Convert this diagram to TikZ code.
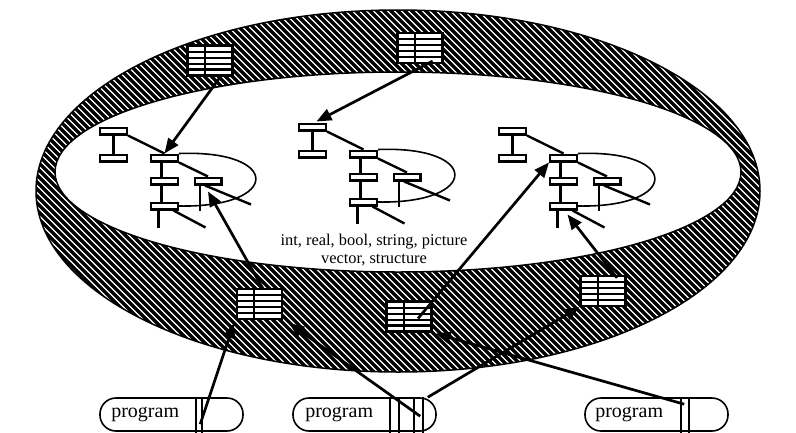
\documentclass[tikz,border=0pt]{standalone}
\usepackage{fontspec}
\setmainfont{Liberation Serif}
\usetikzlibrary{arrows.meta,calc}

\tikzset{
  band/.style={line width=1.5pt},
  hatch/.style={line width=3.2pt, black},
  tbox/.style={draw, line width=2.4pt, fill=white, minimum width=26.6pt,
    minimum height=6.6pt, inner sep=0pt},
  tlink/.style={line width=2.4pt},
  loopline/.style={line width=1.6pt},
  record/.style={draw, line width=2.2pt, fill=white, minimum width=45pt,
    minimum height=30pt, inner sep=0pt,
    path picture={
      \foreach \f in {0.21,0.41,0.61,0.8}
        \draw[line width=2.2pt]
          ($(path picture bounding box.north west)!\f!(path picture bounding box.south west)$) --
          ($(path picture bounding box.north east)!\f!(path picture bounding box.south east)$);
      \draw[line width=2.2pt]
        ($(path picture bounding box.north west)!0.38!(path picture bounding box.north east)$) --
        ($(path picture bounding box.south west)!0.38!(path picture bounding box.south east)$);
    }},
  ptr/.style={line width=2.7pt, -{Triangle[length=15pt,width=12pt]}},
  pill/.style={draw, line width=1.6pt, rounded corners=16pt, minimum width=143pt,
    minimum height=33pt, inner sep=0pt},
  bar/.style={line width=1.6pt},
  plabel/.style={font=\fontsize{20}{22}\selectfont, inner sep=0pt},
  typelabel/.style={font=\fontsize{16.4}{18}\selectfont, align=center, inner sep=0pt},
}

% one tree of storage cells, with its back link
\newcommand\treecluster[3]{%
  \begin{scope}[shift={(#2,#3)}]
    \node[tbox] (#1-A) at (113.5,131) {};
    \node[tbox] (#1-B) at (113.5,158) {};
    \node[tbox] (#1-C) at (164.5,158) {};
    \node[tbox] (#1-D) at (164.5,181) {};
    \node[tbox] (#1-E) at (208,181) {};
    \node[tbox] (#1-F) at (164.5,206) {};
    \draw[tlink] (#1-A.south) -- (#1-B.north);
    \draw[tlink] (#1-A.south east) -- (#1-C.north);
    \draw[tlink] ($(#1-C.south)+(-3,0)$) -- ($(#1-D.north)+(-3,0)$);
    \draw[tlink] ($(#1-D.south)+(-3,0)$) -- ($(#1-F.north)+(-3,0)$);
    \draw[tlink] (#1-C.south east) -- (#1-E.north);
    \draw[tlink] ($(#1-E.south)+(-8,0)$) -- ++(0,25);
    \draw[tlink] ($(#1-E.south)+(-3,0)$) -- ++(46,19);
    \draw[tlink] ($(#1-F.south)+(-6,0)$) -- ++(0,17);
    \draw[tlink] ($(#1-F.south)+(9,0)$) -- ++(32,17);
    \draw[loopline] (#1-C.north east) .. controls +(103,-4) and +(102,2) .. (#1-F.east);
  \end{scope}}

\begin{document}
\begin{tikzpicture}[x=1pt,y=-1pt]
  \useasboundingbox (0,0) rectangle (796,432);

  % hatched ring
  \begin{scope}
    \clip (398,191) ellipse [x radius=362pt, y radius=181pt];
    \foreach \k in {-390,-383,...,790}
      \draw[hatch] (\k,0) -- ++(440,440);
  \end{scope}
  \draw[band, fill=white] (398,172) ellipse [x radius=343pt, y radius=100pt];
  \draw[band] (398,191) ellipse [x radius=362pt, y radius=181pt];

  % trees
  \treecluster{L}{0}{0}
  \treecluster{M}{199}{-4}
  \treecluster{R}{399}{0}

  % records in the ring
  \node[record] (T1) at (210,60.5) {};
  \node[record] (T2) at (420,48) {};
  \node[record] (T3) at (259.5,304) {};
  \node[record] (T4) at (409,316.5) {};
  \node[record] (T5) at (603,291) {};

  % programs
  \node[pill] (P1) at (171.5,414.5) {};
  \node[pill] (P2) at (364.5,414.5) {};
  \node[pill] (P3) at (656.5,414.5) {};
  \node[plabel] (P1t) at ($(P1.west)+(46,0)$) {program};
  \node[plabel] (P2t) at ($(P2.west)+(47,0)$) {program};
  \node[plabel] (P3t) at ($(P3.west)+(45,0)$) {program};
  \foreach \b in {97,103} \draw[bar] ($(P1.north west)+(\b,0)$) -- ++(0,36);
  \foreach \b in {98,107,122,131} \draw[bar] ($(P2.north west)+(\b,0)$) -- ++(0,36);
  \foreach \b in {97,105} \draw[bar] ($(P3.north west)+(\b,0)$) -- ++(0,36);

  % value types
  \node[typelabel] (types) at (374,250) {int, real, bool, string, picture\\vector, structure};

  % pointers
  \draw[ptr] ($(T1.south)+(12,-2)$) -- (L-C.north);
  \draw[ptr] ($(T2.south east)+(-11,-3)$) -- ($(M-A.north)+(4,-1)$);
  \draw[ptr] ($(T3.north)+(3,0)$) -- ($(L-E.south)+(0,6)$);
  \draw[ptr] ($(T4.center)+(9,2)$) -- (R-C.south west);
  \draw[ptr] ($(T5.north)+(14,3)$) -- ($(R-F.south)+(4,4)$);
  \draw[ptr] ($(P1.north west)+(101,27)$) -- ($(T3.south west)+(-2,3)$);
  \draw[ptr] ($(P2.north west)+(128,19)$) -- ($(T3.south east)+(6,3)$);
  \draw[ptr] ($(P2.north east)+(-9,0)$) -- (T5.south west);
  \draw[ptr] ($(P3.north west)+(100,7)$) -- ($(T4.south east)+(3,1)$);
\end{tikzpicture}
\end{document}
